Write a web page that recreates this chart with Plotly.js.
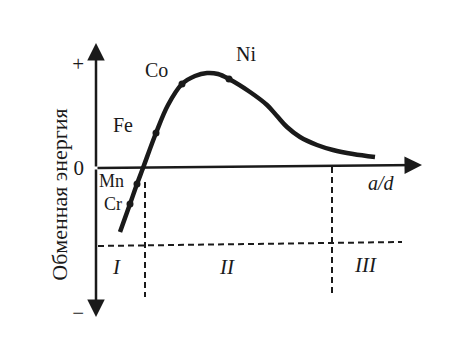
<!DOCTYPE html>
<html>
<head>
<meta charset="utf-8">
<script src="https://cdn.plot.ly/plotly-3.0.1.min.js"></script>
<style>html,body{margin:0;padding:0;background:#fff;}#chart{width:472px;height:356px;}</style>
</head>
<body>
<div id="chart"></div>
<script>
// Bethe–Slater curve: exchange energy vs a/d (arbitrary units)
var curveX = [0.24, 0.34, 0.41, 0.47, 0.60, 0.72, 0.86, 0.99, 1.11, 1.22, 1.33, 1.54, 1.71, 1.81, 1.91, 2.04, 2.21, 2.37, 2.57, 2.79];
var curveY = [-0.64, -0.36, -0.16, 0.00, 0.35, 0.63, 0.84, 0.92, 0.95, 0.94, 0.89, 0.76, 0.63, 0.52, 0.41, 0.31, 0.23, 0.18, 0.14, 0.11];

var elementNames = ["Cr", "Mn", "Fe", "Co", "Ni"];
var elementX = [0.34, 0.41, 0.60, 0.86, 1.33];
var elementY = [-0.36, -0.16, 0.35, 0.84, 0.89];

var regionNames = ["I", "II", "III"];
var regionX = [0.20, 1.31, 2.69];
var regionY = [-0.99, -0.99, -0.97];

var boundaryX = [0.49, 2.36];
var boundaryTop = [-0.14, 0.01];
var boundaryBottom = [-1.29, -1.27];

var yTickVals = [1.04, 0, -1.45];
var yTickText = ["+", "0", "\u2212"];
var yTitle = "Обменная энергия";
var xTitle = "a/d";

// label pixel offsets and sizes (style, not data)
var labelShift = {
  Cr: [-17, 0], Mn: [-26, 3], Fe: [-33, 8], Co: [-26, 14], Ni: [17, 25]
};
var labelSize = {Cr: 18, Mn: 18, Fe: 20, Co: 20, Ni: 20};

var serif = "Liberation Serif, Times New Roman, serif";

var traces = [
  {
    x: curveX, y: curveY, type: "scatter", mode: "lines",
    line: {color: "#1a1a1a", width: 4.5, shape: "spline", smoothing: 1},
    hoverinfo: "skip", showlegend: false
  },
  {
    x: elementX, y: elementY, type: "scatter", mode: "markers",
    marker: {color: "#1a1a1a", size: 7},
    hoverinfo: "skip", showlegend: false
  }
];

var shapes = [];
for (var i = 0; i < boundaryX.length; i++) {
  shapes.push({type: "line", xref: "x", yref: "y",
    x0: boundaryX[i], x1: boundaryX[i], y0: boundaryTop[i], y1: boundaryBottom[i],
    line: {color: "#1a1a1a", width: 2, dash: "6px,4px"}});
}
shapes.push({type: "line", xref: "x", yref: "y", x0: 0.02, x1: 3.06, y0: -0.78, y1: -0.74,
  line: {color: "#1a1a1a", width: 2, dash: "6px,4px"}});

var annotations = [];
// axes with arrows
function arrow(x0, y0, x1, y1) {
  annotations.push({x: x1, y: y1, ax: x0, ay: y0, xref: "x", yref: "y", axref: "x", ayref: "y",
    text: "", showarrow: true, arrowhead: 2, arrowsize: 1.4, arrowwidth: 2.5, arrowcolor: "#1a1a1a", standoff: 0, startstandoff: 0});
}
arrow(0, 0, 0, 1.25);
arrow(0, 0, 0, -1.49);
arrow(0, 0, 3.26, 0.03);

for (var j = 0; j < elementNames.length; j++) {
  var nm = elementNames[j];
  var s = labelShift[nm];
  annotations.push({x: elementX[j], y: elementY[j], xref: "x", yref: "y", text: nm,
    showarrow: false, xshift: s[0], yshift: s[1], font: {family: serif, size: labelSize[nm], color: "#1a1a1a"}});
}
for (var k = 0; k < regionNames.length; k++) {
  annotations.push({x: regionX[k], y: regionY[k], xref: "x", yref: "y", text: "<i>" + regionNames[k] + "</i>",
    showarrow: false, font: {family: serif, size: 21, color: "#1a1a1a"}});
}
annotations.push({x: 2.85, y: -0.15, xref: "x", yref: "y", text: "<i>" + xTitle + "</i>", showarrow: false,
  font: {family: serif, size: 20, color: "#1a1a1a"}});
annotations.push({x: -0.098, y: -0.265, xref: "paper", yref: "y", xanchor: "center", yanchor: "middle",
  text: yTitle, textangle: -90,
  showarrow: false, font: {family: serif, size: 22, color: "#1a1a1a"}});

var layout = {
  width: 472, height: 356,
  margin: {l: 96, r: 0, t: 0, b: 0},
  paper_bgcolor: "#fff", plot_bgcolor: "rgba(0,0,0,0)",
  xaxis: {range: [0, 3.76], visible: false, fixedrange: true},
  yaxis: {range: [-1.88, 1.68], showgrid: false, zeroline: false, showline: false,
    ticks: "", tickvals: yTickVals, ticktext: yTickText, ticklabelstandoff: 11,
    tickfont: {family: serif, size: 21, color: "#1a1a1a"}, fixedrange: true},
  shapes: shapes,
  annotations: annotations,
  showlegend: false
};

Plotly.newPlot("chart", traces, layout, {displayModeBar: false, staticPlot: true});
</script>
</body>
</html>
